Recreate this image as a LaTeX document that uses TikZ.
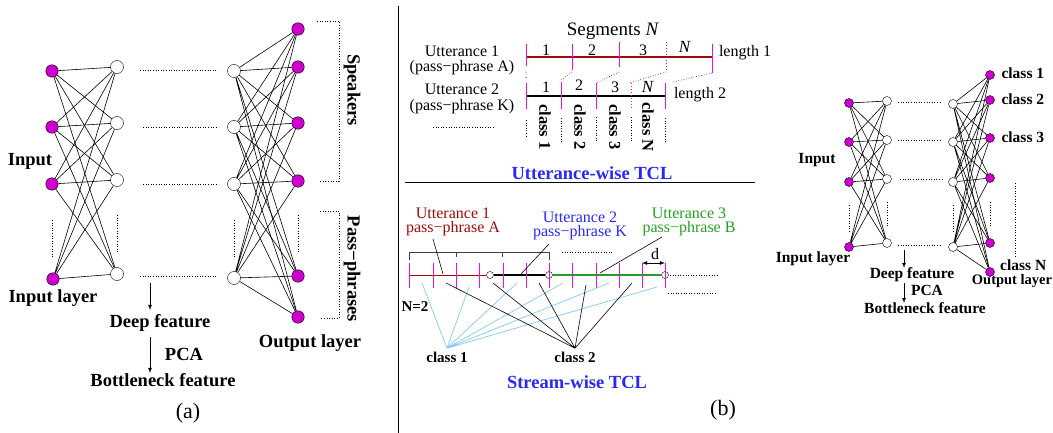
\documentclass[tikz,border=0pt]{standalone}
\usepackage{fontspec}
\setmainfont{Liberation Serif}
\usetikzlibrary{positioning,calc}

\definecolor{nodemag}{RGB}{205,0,205}
\definecolor{tickmag}{RGB}{225,20,225}
\definecolor{uttred}{RGB}{160,10,10}
\definecolor{uttblue}{RGB}{40,40,250}
\definecolor{uttgreen}{RGB}{35,160,35}
\definecolor{skyline}{RGB}{130,200,250}

\begin{document}
\begin{tikzpicture}[x=1pt,y=-1pt,
	inn/.style={circle,draw=black,fill=nodemag,minimum size=12.5pt,inner sep=0pt},
	hid/.style={circle,draw=black,fill=white,minimum size=13pt,inner sep=0pt},
	sinn/.style={circle,draw=black,fill=nodemag,minimum size=9pt,inner sep=0pt},
	shid/.style={circle,draw=black,fill=white,minimum size=9pt,inner sep=0pt},
	ring/.style={circle,draw=black,minimum size=7pt,inner sep=0pt},
	lab/.style={font=\fontsize{18.5}{20}\selectfont\bfseries},
	slab/.style={font=\fontsize{15}{17}\selectfont\bfseries},
	clab/.style={font=\fontsize{15.5}{17}\selectfont\bfseries},
	rlab/.style={font=\fontsize{16.5}{17}\selectfont\bfseries,rotate=-90},
	txt/.style={font=\fontsize{16}{15.5}\selectfont,align=center},
	title/.style={font=\fontsize{18.5}{20}\selectfont\bfseries,text=uttblue},
	dots/.style={dotted,line width=0.6pt},
	tickline/.style={draw=tickmag,line width=1pt},
	wire/.style={line width=0.6pt}]
\useasboundingbox (0,0) rectangle (1053,433);

% (a) network
\node[inn] (i1) at (52,71) {};
\node[inn] (i2) at (52,127) {};
\node[inn] (i3) at (52,184) {};
\node[inn] (i4) at (53,279) {};
\node[hid] (h1) at (117,67) {};
\node[hid] (h2) at (117,123) {};
\node[hid] (h3) at (117,180) {};
\node[hid] (h4) at (117,274) {};
\node[hid] (g1) at (234,71) {};
\node[hid] (g2) at (234,127) {};
\node[hid] (g3) at (234,184) {};
\node[hid] (g4) at (234,278) {};
\node[inn] (o1) at (298,29) {};
\node[inn] (o2) at (298,67) {};
\node[inn] (o3) at (298,123) {};
\node[inn] (o4) at (298,181) {};
\node[inn] (o5) at (298,276) {};
\node[inn] (o6) at (298,317) {};

\draw[wire] (i1)--(h1) (i1)--(h2) (i1)--(h3) (i1)--(h4);
\draw[wire] (i2)--(h1) (i2)--(h2) (i2)--(h3) (i2)--(h4);
\draw[wire] (i3)--(h1) (i3)--(h2) (i3)--(h3) (i3)--(h4);
\draw[wire] (i4)--(h1) (i4)--(h2) (i4)--(h3) (i4)--(h4);
\draw[wire] (g1)--(o1) (g1)--(o2) (g1)--(o3) (g1)--(o4) (g1)--(o5) (g1)--(o6);
\draw[wire] (g2)--(o1) (g2)--(o2) (g2)--(o3) (g2)--(o4) (g2)--(o5) (g2)--(o6);
\draw[wire] (g3)--(o1) (g3)--(o2) (g3)--(o3) (g3)--(o4) (g3)--(o5) (g3)--(o6);
\draw[wire] (g4)--(o1) (g4)--(o2) (g4)--(o3) (g4)--(o4) (g4)--(o5) (g4)--(o6);

\draw[dots] (140,70)--(218,70) (143,127)--(218,127) (143,184)--(218,184) (140,276)--(218,276);
\draw[dots] (52,220)--(52,257) (117,215)--(117,253) (234,220)--(234,257) (298,215)--(298,253);
\draw[dots] (317,21)--(339,21)--(339,181)--(320,181);
\draw[dots] (320,211)--(339,211)--(339,318)--(320,318);

\node[lab,rotate=-90] (spk) at (352,90) {Speakers};
\node[lab,rotate=-90] (pph) at (352,269) {Pass−phrases};
\node[lab] (inp) at (30,161) {Input};
\node[lab] (inl) at (53,298) {Input layer};
\node[lab] (deep) at (160,323) {Deep feature};
\node[lab] (pca) at (184,354) {PCA};
\node[lab] (bott) at (163,380) {Bottleneck feature};
\node[lab] (outl) at (310,343) {Output layer};
\draw[-latex,line width=0.8pt] (150,283)--(150,310);
\draw[-latex,line width=0.8pt] (150,337)--(150,373);
\node[font=\fontsize{22}{24}\selectfont] (pa) at (188,413) {(a)};

\draw[line width=1pt] (398,6)--(398,433);

% (b) utterance-wise
\node[font=\fontsize{19}{20}\selectfont] (seg) at (613,31) {Segments \textit{N}};
\node[txt] (ut1) at (462,60.5) {Utterance 1\\(pass−phrase A)};
\node[txt] (ut2) at (462,99) {Utterance 2\\(pass−phrase K)};
\draw[uttred,line width=1.4pt] (526,57)--(712,57);
\draw[black,line width=1.4pt] (526,96)--(665,96);
\draw[tickline] (526,44)--(526,66) (572,44)--(572,70) (619,42)--(619,67) (712,44)--(712,73);
\draw[tickline,dotted] (666,42)--(666,70) (631,83)--(631,109);
\draw[tickline] (526,83)--(526,109) (561,82)--(561,109) (596,83)--(596,109) (665,83)--(665,109);
\draw[dots] (526,72)--(526,80) (572,72)--(561,80) (619,72)--(596,83) (666,72)--(629,83) (712,73)--(673,82);
\draw[dots] (526,120)--(526,138) (561,118)--(561,142) (596,117)--(596,142) (631,117)--(631,142) (665,118)--(665,142);
\draw[dots] (433,127)--(493,127);
\node[txt] (n11) at (546,50) {1};
\node[txt] (n12) at (592,50) {2};
\node[txt] (n13) at (643,50) {3};
\node[txt,font=\fontsize{17}{17}\selectfont] (n1n) at (685,47) {\textit{N}};
\node[txt] (n21) at (546,87) {1};
\node[txt] (n22) at (579,85) {2};
\node[txt] (n23) at (615,87) {3};
\node[txt,font=\fontsize{17}{17}\selectfont] (n2n) at (648,87) {\textit{N}};
\node[txt] (len1) at (745,53) {length 1};
\node[txt] (len2) at (700,95) {length 2};
\node[rlab] (k1) at (545,127) {class 1};
\node[rlab] (k2) at (580,127) {class 2};
\node[rlab] (k3) at (615,127) {class 3};
\node[rlab] (kn) at (648,127) {class N};
\node[title] (uwt) at (592,173) {Utterance-wise TCL};
\draw[line width=1pt] (405,183)--(755,183);

% (b) stream-wise
\node[txt,font=\fontsize{16}{14}\selectfont,text=uttred] (sb1) at (453,222) {Utterance 1\\pass−phrase A};
\node[txt,font=\fontsize{16}{14}\selectfont,text=uttblue] (sb2) at (580,226) {Utterance 2\\pass−phrase K};
\node[txt,font=\fontsize{16}{14}\selectfont,text=uttgreen] (sb3) at (689,221.5) {Utterance 3\\pass−phrase B};
\draw[black!75,line width=0.8pt] (409,260)--(409,252)--(549,252)--(549,260) (456,252)--(456,257) (502,252)--(502,257);
\draw[dots] (562,252)--(612,252);
\node[ring] (r1) at (490,275) {};
\node[ring] (r2) at (549,275) {};
\node[ring] (r3) at (665,275) {};
\coordinate (s0) at (409,275);
\draw[uttred,line width=1pt] (s0)--(r1);
\draw[black,line width=2.6pt] (r1)--(r2);
\draw[uttgreen,line width=1.4pt] (r2)--(r3);
\draw[tickline] (409,263)--(409,288) (433,263)--(433,288) (456,263)--(456,288) (479,263)--(479,288)
	(503,263)--(503,288) (526,263)--(526,288) (549,263)--(549,288) (572,263)--(572,288)
	(596,263)--(596,288) (619,263)--(619,288) (642,263)--(642,288) (665,263)--(665,288);
\draw[dots] (670,275)--(717,275) (668,293)--(717,293);
\draw[latex-latex,line width=0.8pt] (642,263)--(665,263);
\node[txt] (dd) at (655,254) {d};
\draw[wire] (433,239)--(443,274) (549,244)--(521,274) (662,237)--(600,273);
\node[slab] (n2) at (415,307) {N=2};
\node[slab] (cl1) at (447,357) {class 1};
\node[slab] (cl2) at (575,357) {class 2};
\draw[skyline,line width=0.7pt] (cl1.north)--(422,283) (cl1.north)--(469,287) (cl1.north)--(517,283)
	(cl1.north)--(563,283) (cl1.north)--(609,283) (cl1.north)--(657,287);
\draw[wire] (cl2.north)--(446,283) (cl2.north)--(493,283) (cl2.north)--(539,283)
	(cl2.north)--(586,285) (cl2.north)--(632,283);
\node[title] (swt) at (577,382) {Stream-wise TCL};
\node[font=\fontsize{22}{24}\selectfont] (pb) at (723,410) {(b)};

% right network
\node[sinn] (ci1) at (849,103) {};
\node[sinn] (ci2) at (849,142) {};
\node[sinn] (ci3) at (849,182) {};
\node[sinn] (ci4) at (849,247) {};
\node[shid] (ch1) at (887,101) {};
\node[shid] (ch2) at (887,140) {};
\node[shid] (ch3) at (887,179) {};
\node[shid] (ch4) at (887,243) {};
\node[shid] (cg1) at (953,104) {};
\node[shid] (cg2) at (953,142) {};
\node[shid] (cg3) at (953,182) {};
\node[shid] (cg4) at (953,247) {};
\node[sinn] (co1) at (990,75) {};
\node[sinn] (co2) at (990,100) {};
\node[sinn] (co3) at (990,138) {};
\node[sinn] (co4) at (990,178) {};
\node[sinn] (co5) at (990,243) {};
\node[sinn] (co6) at (990,272) {};

\draw[wire] (ci1)--(ch1) (ci1)--(ch2) (ci1)--(ch3) (ci1)--(ch4);
\draw[wire] (ci2)--(ch1) (ci2)--(ch2) (ci2)--(ch3) (ci2)--(ch4);
\draw[wire] (ci3)--(ch1) (ci3)--(ch2) (ci3)--(ch3) (ci3)--(ch4);
\draw[wire] (ci4)--(ch1) (ci4)--(ch2) (ci4)--(ch3) (ci4)--(ch4);
\draw[wire] (cg1)--(co1) (cg1)--(co2) (cg1)--(co3) (cg1)--(co4) (cg1)--(co5) (cg1)--(co6);
\draw[wire] (cg2)--(co1) (cg2)--(co2) (cg2)--(co3) (cg2)--(co4) (cg2)--(co5) (cg2)--(co6);
\draw[wire] (cg3)--(co1) (cg3)--(co2) (cg3)--(co3) (cg3)--(co4) (cg3)--(co5) (cg3)--(co6);
\draw[wire] (cg4)--(co1) (cg4)--(co2) (cg4)--(co3) (cg4)--(co4) (cg4)--(co5) (cg4)--(co6);

\draw[dots] (898,102)--(942,102) (898,140)--(942,140) (900,179)--(942,179) (898,245)--(942,245);
\draw[dots] (849,205)--(849,232) (887,202)--(887,227) (953,205)--(953,232) (990,202)--(990,228) (1015,183)--(1015,257);

\node[clab,anchor=west] (cc1) at (998,73) {class 1};
\node[clab,anchor=west] (cc2) at (998,99) {class 2};
\node[clab,anchor=west] (cc3) at (998,137) {class 3};
\node[clab,anchor=west,inner sep=1pt] (ccn) at (999,265) {class N};
\node[clab,font=\fontsize{14.5}{16}\selectfont\bfseries,inner sep=0pt] (coutl) at (1012,281) {Output layer};
\node[clab] (cinp) at (817,160) {Input};
\node[clab] (cinl) at (813,259) {Input layer};
\node[clab,inner sep=0.5pt] (cdeep) at (912,275) {Deep feature};
\node[clab,inner sep=0.5pt] (cpca) at (927,290) {PCA};
\node[clab,inner sep=1pt] (cbott) at (925,308) {Bottleneck feature};
\draw[-latex,line width=0.7pt] (904,250)--(904,268);
\draw[-latex,line width=0.7pt] (904,283)--(904,303);
\end{tikzpicture}
\end{document}
